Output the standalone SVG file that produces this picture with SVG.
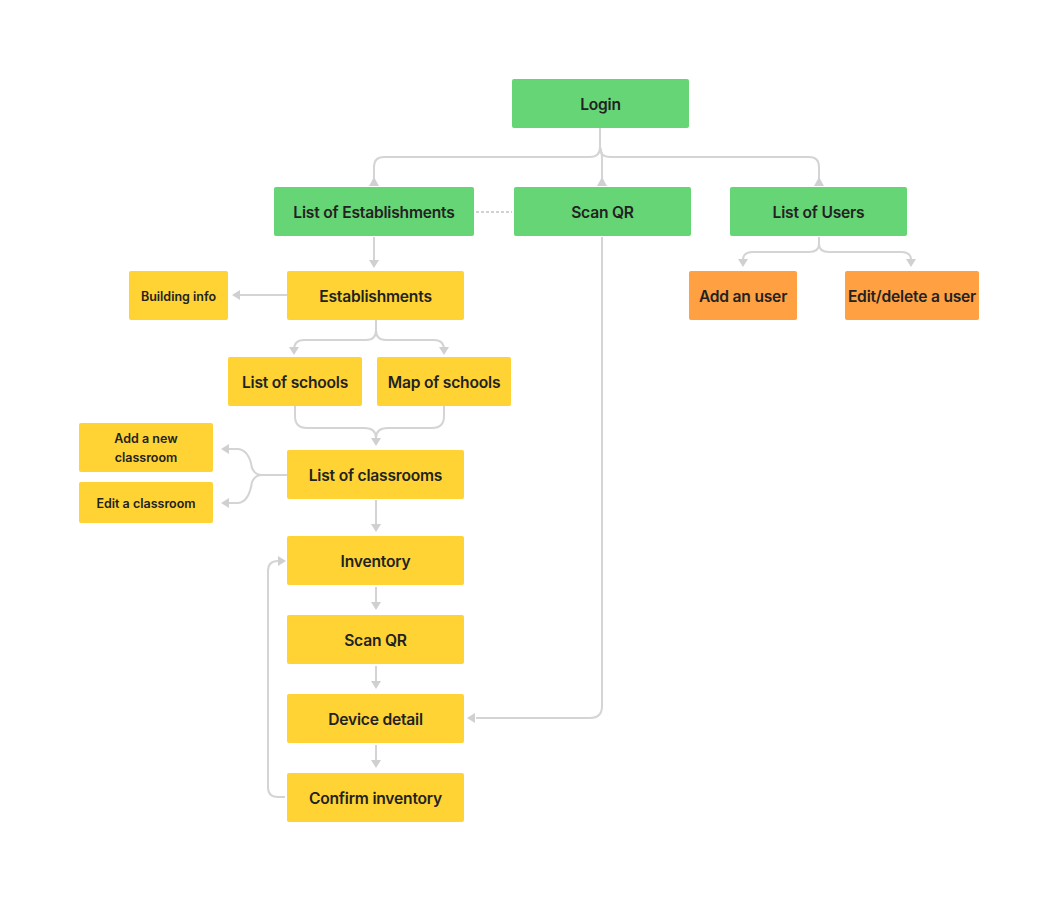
<svg xmlns="http://www.w3.org/2000/svg" width="1058" height="901" viewBox="0 0 1058 901">
<style>
.n rect{rx:2;ry:2}
.g{fill:#66D575}
.y{fill:#FFD333}
.o{fill:#FFA043}
text{font-family:Inter,"Liberation Sans",sans-serif;font-weight:600;fill:#222;text-anchor:middle;dominant-baseline:central}
.t15{font-size:15.6px;letter-spacing:-0.2px}
.t13{font-size:12.5px}
.c path{fill:none;stroke:#D4D4D4;stroke-width:2}
.c polygon{fill:#D0D0D0}
</style>
<rect width="1058" height="901" fill="#fff"/>
<g class="c" id="connectors">
  <path d="M600 128 V147 Q600 157 590 157 H384 Q374 157 374 167 V180"/>
  <path d="M600 128 V147 Q600 157 610 157 H809 Q819 157 819 167 V180"/>
  <path d="M600 147 Q602 152 602 160 V180"/>
  <polygon points="374,177 369,186 379,186"/>
  <polygon points="602,177 597,186 607,186"/>
  <polygon points="819,177 814,186 824,186"/>
  <path d="M476 212 H512" style="stroke-dasharray:3 2;stroke-width:1.5;stroke:#C4C4C4"/>
  <path d="M374 237 V262"/>
  <polygon points="369,260 379,260 374,268"/>
  <path d="M287 295 H236"/>
  <polygon points="232,295 240,290 240,300"/>
  <path d="M376 320 V330 Q376 340 366 340 H304 Q294 340 294 350"/>
  <path d="M376 320 V330 Q376 340 386 340 H434 Q444 340 444 350"/>
  <polygon points="289,347 299,347 294,355"/>
  <polygon points="439,347 449,347 444,355"/>
  <path d="M295 406 V416 Q295 428 307 428 H364 Q376 428 376 438"/>
  <path d="M444 406 V416 Q444 428 432 428 H388 Q376 428 376 438"/>
  <polygon points="371,438 381,438 376,446"/>
  <path d="M287 475 H262 Q255 475 252 468 Q249 450 238 449 H228"/>
  <path d="M287 475 H262 Q255 475 252 482 Q249 502 238 503 H228"/>
  <polygon points="221,449 229,444 229,454"/>
  <polygon points="221,503 229,498 229,508"/>
  <path d="M376 500 V526"/>
  <polygon points="371,524 381,524 376,532"/>
  <path d="M376 587 V604"/>
  <polygon points="371,602 381,602 376,610"/>
  <path d="M376 666 V683"/>
  <polygon points="371,681 381,681 376,689"/>
  <path d="M376 745 V762"/>
  <polygon points="371,760 381,760 376,768"/>
  <path d="M285 797 H278 Q268 797 268 787 V571 Q268 561 278 561 H280"/>
  <polygon points="286,561 278,556 278,566"/>
  <path d="M602 237 V706 Q602 718 590 718 H476"/>
  <polygon points="467,718 475,713 475,723"/>
  <path d="M819 237 V244 Q819 252 809 252 H753 Q743 252 743 260"/>
  <path d="M819 237 V244 Q819 252 829 252 H901 Q911 252 911 260"/>
  <polygon points="738,259 748,259 743,267"/>
  <polygon points="906,259 916,259 911,267"/>
</g>
<g class="n" id="login"><rect class="g" x="512" y="79" width="177" height="49"/><text class="t15" x="600.5" y="104">Login</text></g>
<g class="n" id="list-establishments"><rect class="g" x="274" y="187" width="200" height="49"/><text class="t15" x="374" y="212">List of Establishments</text></g>
<g class="n" id="scan-qr-top"><rect class="g" x="514" y="187" width="177" height="49"/><text class="t15" x="602.5" y="212">Scan QR</text></g>
<g class="n" id="list-users"><rect class="g" x="730" y="187" width="177" height="49"/><text class="t15" x="818.5" y="212">List of Users</text></g>
<g class="n" id="add-user"><rect class="o" x="689" y="271" width="108" height="49"/><text class="t15" x="743" y="296">Add an user</text></g>
<g class="n" id="edit-user"><rect class="o" x="845" y="271" width="134" height="49"/><text class="t15" x="912" y="296">Edit/delete a user</text></g>
<g class="n" id="building-info"><rect class="y" x="129" y="271" width="99" height="49"/><text class="t13" x="178.5" y="296">Building info</text></g>
<g class="n" id="establishments"><rect class="y" x="287" y="271" width="177" height="49"/><text class="t15" x="375.5" y="296">Establishments</text></g>
<g class="n" id="list-schools"><rect class="y" x="228" y="357" width="134" height="49"/><text class="t15" x="295" y="382">List of schools</text></g>
<g class="n" id="map-schools"><rect class="y" x="377" y="357" width="134" height="49"/><text class="t15" x="444" y="382">Map of schools</text></g>
<g class="n" id="add-classroom"><rect class="y" x="79" y="423" width="134" height="49"/><text class="t13" x="146" y="438">Add a new</text><text class="t13" x="146" y="457">classroom</text></g>
<g class="n" id="edit-classroom"><rect class="y" x="79" y="482" width="134" height="41"/><text class="t13" x="146" y="503">Edit a classroom</text></g>
<g class="n" id="list-classrooms"><rect class="y" x="287" y="450" width="177" height="49"/><text class="t15" x="375.5" y="475">List of classrooms</text></g>
<g class="n" id="inventory"><rect class="y" x="287" y="536" width="177" height="49"/><text class="t15" x="375.5" y="561">Inventory</text></g>
<g class="n" id="scan-qr"><rect class="y" x="287" y="615" width="177" height="49"/><text class="t15" x="375.5" y="640">Scan QR</text></g>
<g class="n" id="device-detail"><rect class="y" x="287" y="694" width="177" height="49"/><text class="t15" x="375.5" y="719">Device detail</text></g>
<g class="n" id="confirm-inventory"><rect class="y" x="287" y="773" width="177" height="49"/><text class="t15" x="375.5" y="798">Confirm inventory</text></g>
</svg>
